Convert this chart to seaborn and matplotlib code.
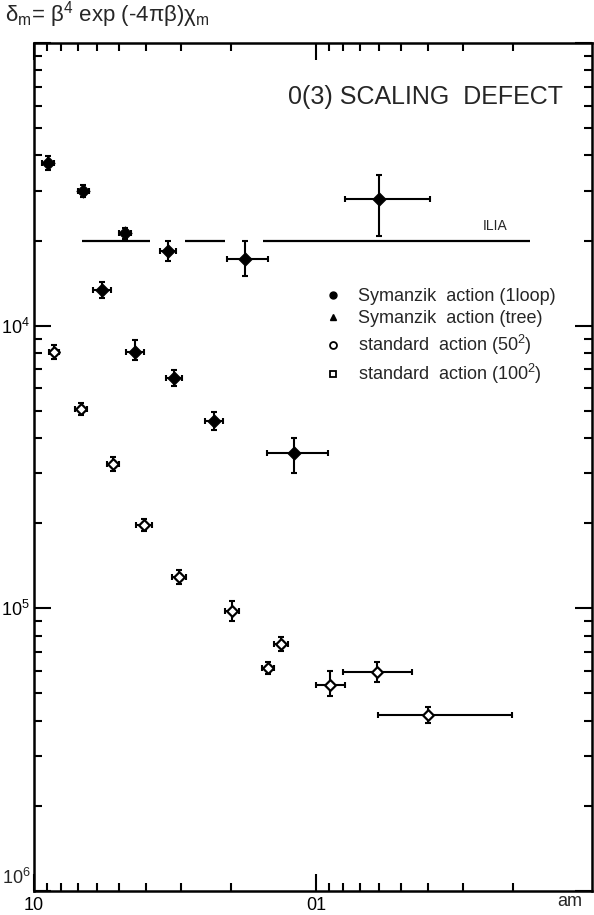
import numpy as np
import pandas as pd
import matplotlib
matplotlib.use("Agg")
import matplotlib.pyplot as plt
from matplotlib.lines import Line2D
from matplotlib.ticker import LogLocator, NullFormatter, FixedLocator, FixedFormatter
import seaborn as sns

# ---------------- data ----------------
# Symanzik action (1 loop)
sym1_am = [0.89, 0.67, 0.476, 0.335, 0.179, 0.060]
sym1_am_lo = [0.848, 0.64, 0.453, 0.314, 0.148, 0.0393]
sym1_am_hi = [0.935, 0.70, 0.50, 0.357, 0.207, 0.0792]
sym1_d = [3.77e-4, 3.0e-4, 2.12e-4, 1.83e-4, 1.72e-4, 2.8e-4]
sym1_d_lo = [3.56e-4, 2.86e-4, 2.02e-4, 1.69e-4, 1.50e-4, 2.08e-4]
sym1_d_hi = [3.99e-4, 3.15e-4, 2.22e-4, 1.99e-4, 1.99e-4, 3.41e-4]

# Symanzik action (tree)
symt_am = [0.574, 0.438, 0.319, 0.230, 0.1197]
symt_am_lo = [0.533, 0.407, 0.299, 0.214, 0.0907]
symt_am_hi = [0.618, 0.471, 0.340, 0.247, 0.149]
symt_d = [1.34e-4, 8.08e-5, 6.53e-5, 4.59e-5, 3.53e-5]
symt_d_lo = [1.255e-4, 7.57e-5, 6.11e-5, 4.27e-5, 3.0e-5]
symt_d_hi = [1.43e-4, 8.91e-5, 6.97e-5, 4.94e-5, 3.99e-5]

# standard action (50^2)
std50_am = [0.849, 0.681, 0.525, 0.407, 0.306, 0.199, 0.148, 0.133]
std50_am_lo = [0.815, 0.649, 0.50, 0.381, 0.289, 0.188, 0.141, 0.126]
std50_am_hi = [0.885, 0.715, 0.551, 0.434, 0.324, 0.211, 0.155, 0.141]
std50_d = [8.08e-5, 5.07e-5, 3.25e-5, 1.97e-5, 1.29e-5, 9.76e-6, 6.17e-6, 7.5e-6]
std50_d_lo = [7.63e-5, 4.83e-5, 3.07e-5, 1.88e-5, 1.22e-5, 9.0e-6, 5.88e-6, 7.08e-6]
std50_d_hi = [8.56e-5, 5.32e-5, 3.44e-5, 2.07e-5, 1.37e-5, 1.06e-5, 6.48e-6, 7.94e-6]

# standard action (100^2)
std100_am = [0.0892, 0.0608, 0.040]
std100_am_lo = [0.0789, 0.0457, 0.0202]
std100_am_hi = [0.100, 0.0803, 0.0602]
std100_d = [5.37e-6, 5.97e-6, 4.2e-6]
std100_d_lo = [4.91e-6, 5.5e-6, 3.93e-6]
std100_d_hi = [6.02e-6, 6.48e-6, 4.49e-6]

# ILIA reference level (drawn as a broken line)
ilia_level = 2.0e-4
ilia_seg_start = [0.675, 0.291, 0.154]
ilia_seg_end = [0.387, 0.210, 0.0174]

legend_labels = ["Symanzik  action (1loop)", "Symanzik  action (tree)",
                 "standard  action (50$^2$)", "standard  action (100$^2$)"]
x_tick_vals = [1.0, 0.1]
x_tick_labels = ["10", "01"]
y_tick_vals = [1e-6, 1e-5, 1e-4, 1e-3]
y_tick_labels = ["", "10$^{5}$", "10$^{4}$", ""]
y_bottom_label = "10$^{6}$"

# ---------------- build table ----------------
def frame(name, am, am_lo, am_hi, d, d_lo, d_hi):
    return pd.DataFrame({"series": name, "am": am, "am_lo": am_lo, "am_hi": am_hi,
                         "d": d, "d_lo": d_lo, "d_hi": d_hi})

df = pd.concat([
    frame("sym1", sym1_am, sym1_am_lo, sym1_am_hi, sym1_d, sym1_d_lo, sym1_d_hi),
    frame("symt", symt_am, symt_am_lo, symt_am_hi, symt_d, symt_d_lo, symt_d_hi),
    frame("std50", std50_am, std50_am_lo, std50_am_hi, std50_d, std50_d_lo, std50_d_hi),
    frame("std100", std100_am, std100_am_lo, std100_am_hi, std100_d, std100_d_lo, std100_d_hi),
], ignore_index=True)

# ---------------- figure ----------------
sns.set_theme(style="ticks")
plt.rcParams["font.family"] = ["Liberation Sans", "DejaVu Sans"]
plt.rcParams["mathtext.fontset"] = "custom"
plt.rcParams["mathtext.rm"] = "Liberation Sans"
plt.rcParams["mathtext.it"] = "Liberation Sans"
plt.rcParams["mathtext.default"] = "regular"

W, H = 594, 915
fig = plt.figure(figsize=(W / 100, H / 100), dpi=100)
fig.patch.set_facecolor("white")
L, R, T, B = 34, 592, 43, 891
ax = fig.add_axes([L / W, 1 - B / H, (R - L) / W, (B - T) / H])
ax.set_facecolor("white")

ax.set_xscale("log")
ax.set_yscale("log")
ax.set_xlim(1.0, 0.0105)
ax.set_ylim(1e-6, 1e-3)

# error bars
for name, sub in df.groupby("series", sort=False):
    xerr = [sub["am"] - sub["am_lo"], sub["am_hi"] - sub["am"]]
    yerr = [sub["d"] - sub["d_lo"], sub["d_hi"] - sub["d"]]
    ax.errorbar(sub["am"], sub["d"], xerr=xerr, yerr=yerr, fmt="none",
                ecolor="black", elinewidth=1.5, capsize=2.5, capthick=1.5, zorder=2)

filled = df[df["series"].isin(["sym1", "symt"])]
opened = df[df["series"].isin(["std50", "std100"])]
sns.scatterplot(data=filled, x="am", y="d", marker="D", s=42, color="black",
                edgecolor="black", linewidth=1.0, ax=ax, zorder=3, legend=False)
sns.scatterplot(data=opened, x="am", y="d", marker="D", s=30, facecolor="white",
                edgecolor="black", linewidth=1.6, ax=ax, zorder=3, legend=False)

# ILIA reference line
ax.hlines([ilia_level] * len(ilia_seg_start), ilia_seg_start, ilia_seg_end,
          colors="black", linewidth=1.6, zorder=1)
ax.text(0.0232, 2.25e-4, "ILIA", fontsize=10, ha="center", va="center")

# ticks
ax.xaxis.set_major_locator(FixedLocator(x_tick_vals))
ax.xaxis.set_major_formatter(FixedFormatter(x_tick_labels))
ax.xaxis.set_minor_locator(LogLocator(base=10, subs=np.arange(2, 10)))
ax.xaxis.set_minor_formatter(NullFormatter())
ax.yaxis.set_major_locator(FixedLocator(y_tick_vals))
ax.yaxis.set_major_formatter(FixedFormatter(y_tick_labels))
ax.yaxis.set_minor_locator(LogLocator(base=10, subs=np.arange(2, 10)))
ax.yaxis.set_minor_formatter(NullFormatter())
ax.tick_params(which="both", direction="in", top=True, right=True, colors="black",
               width=1.5, labelsize=13)
ax.tick_params(which="major", length=12, pad=4)
ax.tick_params(which="minor", length=6)
ax.tick_params(axis="y", which="major", pad=3)
for s in ax.spines.values():
    s.set_linewidth(1.8)
    s.set_color("black")
ax.set_xlabel("")
ax.set_ylabel("")
ax.grid(False)

# texts
ax.text((425 - L) / (R - L), (B - 97) / (B - T), "0(3) SCALING  DEFECT",
        transform=ax.transAxes, fontsize=18, ha="center", va="center")
fig.text(5 / W, 1 - 15 / H, r"δ$_m$= β$^4$ exp (-4πβ)χ$_m$", fontsize=16,
         ha="left", va="center")
fig.text(570 / W, 1 - 902 / H, "am", fontsize=13, ha="center", va="center")
fig.text(31 / W, 1 - 878 / H, y_bottom_label, fontsize=13, ha="right", va="center")

# legend
handles = [
    Line2D([], [], linestyle="none", marker="o", markersize=5, color="black"),
    Line2D([], [], linestyle="none", marker="^", markersize=5, color="black"),
    Line2D([], [], linestyle="none", marker="o", markersize=5, markerfacecolor="white",
           markeredgecolor="black", markeredgewidth=1.3),
    Line2D([], [], linestyle="none", marker="s", markersize=5, markerfacecolor="white",
           markeredgecolor="black", markeredgewidth=1.3),
]
ax.legend(handles, legend_labels, loc="upper left",
          bbox_to_anchor=((324 - L) / (R - L), (B - 288) / (B - T)),
          frameon=False, fontsize=13, handlelength=1.0, handletextpad=0.9,
          labelspacing=0.3, borderpad=0, borderaxespad=0)

fig.savefig("out.png", dpi=100, facecolor="white")
